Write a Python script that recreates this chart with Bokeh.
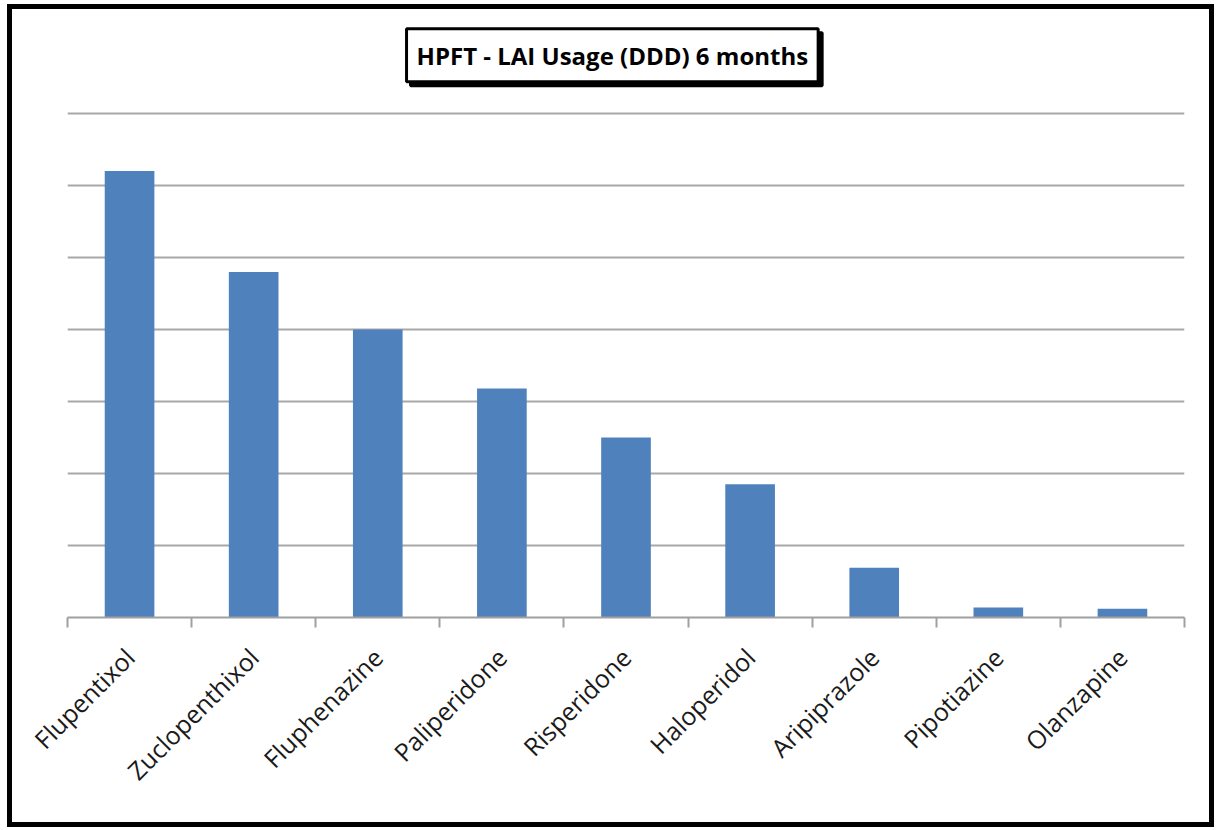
import math
from bokeh.plotting import figure
from bokeh.models import Range1d, FixedTicker, Label, ColumnDataSource
from bokeh.embed import file_html
from bokeh.resources import INLINE

drugs = ["Flupentixol", "Zuclopenthixol", "Fluphenazine", "Paliperidone", "Risperidone",
         "Haloperidol", "Aripiprazole", "Pipotiazine", "Olanzapine"]
usage = [6.2, 4.8, 4.0, 3.18, 2.5, 1.85, 0.69, 0.14, 0.12]
grid_values = [0, 1, 2, 3, 4, 5, 6, 7]
title_text = "HPFT - LAI Usage (DDD) 6 months"

positions = [i + 0.5 for i in range(len(drugs))]
source = ColumnDataSource(dict(x=positions, top=usage, name=drugs))

p = figure(width=1207, height=823, output_backend="svg", toolbar_location=None,
           x_range=Range1d(0, len(drugs)), y_range=Range1d(0, 598 / 72),
           min_border_left=55, min_border_right=35, min_border_top=10, min_border_bottom=215)
p.margin = (4, 0, 0, 7)
p.styles = {"border": "5px solid black"}
p.outline_line_color = None
p.background_fill_color = "white"
p.border_fill_color = "white"

p.vbar(x="x", top="top", width=0.4, source=source, fill_color="#4F81BD", line_color=None)

p.yaxis.visible = False
p.xgrid.visible = False
p.ygrid.ticker = FixedTicker(ticks=grid_values)
p.ygrid.grid_line_color = "#A8A8A8"
p.ygrid.grid_line_width = 2

ax = p.xaxis[0]
ax.ticker = FixedTicker(ticks=positions, minor_ticks=list(range(len(drugs) + 1)))
ax.major_label_overrides = {pos: name for pos, name in zip(positions, drugs)}
ax.major_tick_line_color = None
ax.minor_tick_out = 10
ax.minor_tick_in = 0
ax.minor_tick_line_color = "#A0A0A0"
ax.minor_tick_line_width = 2
ax.axis_line_color = "#A0A0A0"
ax.axis_line_width = 2
ax.major_label_orientation = math.pi / 4
ax.major_label_text_font = "Open Sans"
ax.major_label_text_font_size = "25px"
ax.major_label_text_color = "#1a1a1a"
ax.major_label_standoff = 25

common = dict(x=4.39, y=7.81, text=title_text, text_align="center", text_baseline="middle",
              text_font="Open Sans", text_font_style="bold", text_font_size="24px",
              text_color="black", border_line_color="black", border_line_width=3, padding=10)
shadow = Label(background_fill_color="black", x_offset=4, y_offset=-4, **common)
p.add_layout(shadow)
title = Label(background_fill_color="white", **common)
p.add_layout(title)

open("out.html", "w").write(file_html(p, INLINE))
